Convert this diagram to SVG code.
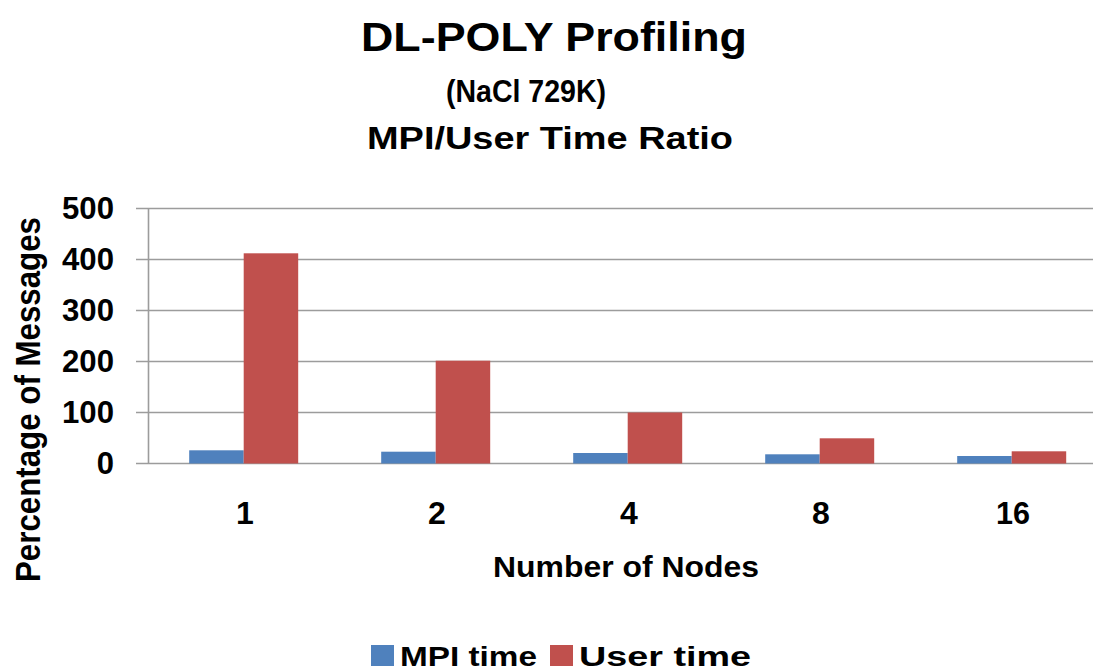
<svg xmlns="http://www.w3.org/2000/svg" width="1093" height="670" viewBox="0 0 1093 670">
  <style>
    text { font-family: "Liberation Sans", Arial, sans-serif; font-weight: bold; fill: #000; }
    .grid { stroke: #9c9c9c; stroke-width: 1.6; fill: none; }
    .mpi { fill: #4F81BD; }
    .user { fill: #C0504D; }
    .tick { font-size: 31px; text-anchor: end; }
    .cat { font-size: 32px; text-anchor: middle; }
  </style>
  <rect width="1093" height="670" fill="#fff"/>

  <g id="title">
    <text x="554" y="51" font-size="41" text-anchor="middle" textLength="386" lengthAdjust="spacingAndGlyphs">DL-POLY Profiling</text>
    <text x="526" y="102" font-size="31" text-anchor="middle" textLength="160" lengthAdjust="spacingAndGlyphs">(NaCl 729K)</text>
    <text x="550" y="149" font-size="31" text-anchor="middle" textLength="366" lengthAdjust="spacingAndGlyphs">MPI/User Time Ratio</text>
  </g>

  <g id="gridlines">
    <line class="grid" x1="136" y1="208.5" x2="1093" y2="208.5"/>
    <line class="grid" x1="136" y1="259.5" x2="1093" y2="259.5"/>
    <line class="grid" x1="136" y1="310.5" x2="1093" y2="310.5"/>
    <line class="grid" x1="136" y1="361.5" x2="1093" y2="361.5"/>
    <line class="grid" x1="136" y1="412.5" x2="1093" y2="412.5"/>
    <line class="grid" x1="136" y1="463.5" x2="1093" y2="463.5"/>
    <line class="grid" x1="148.5" y1="208.5" x2="148.5" y2="463.5"/>
  </g>

  <g id="y-axis-labels">
    <text class="tick" x="114" y="218.5" textLength="52" lengthAdjust="spacingAndGlyphs">500</text>
    <text class="tick" x="114" y="269.5" textLength="52" lengthAdjust="spacingAndGlyphs">400</text>
    <text class="tick" x="114" y="320.5" textLength="52" lengthAdjust="spacingAndGlyphs">300</text>
    <text class="tick" x="114" y="371.5" textLength="52" lengthAdjust="spacingAndGlyphs">200</text>
    <text class="tick" x="114" y="422.5" textLength="52" lengthAdjust="spacingAndGlyphs">100</text>
    <text class="tick" x="114" y="474">0</text>
  </g>

  <g id="y-axis-title">
    <text transform="translate(40 399.5) rotate(-90)" font-size="35" text-anchor="middle" textLength="365" lengthAdjust="spacingAndGlyphs">Percentage of Messages</text>
  </g>

  <g id="bars-1">
    <rect class="mpi" x="189.2" y="450.3" width="54.5" height="13.2"/>
    <rect class="user" x="243.7" y="253.3" width="54.5" height="210.2"/>
  </g>
  <g id="bars-2">
    <rect class="mpi" x="381.2" y="451.7" width="54.5" height="11.8"/>
    <rect class="user" x="435.7" y="360.7" width="54.5" height="102.8"/>
  </g>
  <g id="bars-4">
    <rect class="mpi" x="573.2" y="453" width="54.5" height="10.5"/>
    <rect class="user" x="627.7" y="412.5" width="54.5" height="51"/>
  </g>
  <g id="bars-8">
    <rect class="mpi" x="765.2" y="454.3" width="54.5" height="9.2"/>
    <rect class="user" x="819.7" y="438.3" width="54.5" height="25.2"/>
  </g>
  <g id="bars-16">
    <rect class="mpi" x="957.2" y="456" width="54.5" height="7.5"/>
    <rect class="user" x="1011.7" y="451.3" width="54.5" height="12.2"/>
  </g>

  <g id="x-axis-labels">
    <text class="cat" x="245" y="523.5">1</text>
    <text class="cat" x="437" y="523.5">2</text>
    <text class="cat" x="629" y="523.5">4</text>
    <text class="cat" x="821" y="523.5">8</text>
    <text class="cat" x="1013" y="523.5" textLength="34" lengthAdjust="spacingAndGlyphs">16</text>
  </g>

  <g id="x-axis-title">
    <text x="626" y="577" font-size="30" text-anchor="middle" textLength="266" lengthAdjust="spacingAndGlyphs">Number of Nodes</text>
  </g>

  <g id="legend">
    <rect class="mpi" x="371" y="645" width="23" height="21"/>
    <text x="400" y="666" font-size="28" textLength="137" lengthAdjust="spacingAndGlyphs">MPI time</text>
    <rect class="user" x="550" y="645" width="23" height="21"/>
    <text x="579" y="666" font-size="28" textLength="172" lengthAdjust="spacingAndGlyphs">User time</text>
  </g>
</svg>
